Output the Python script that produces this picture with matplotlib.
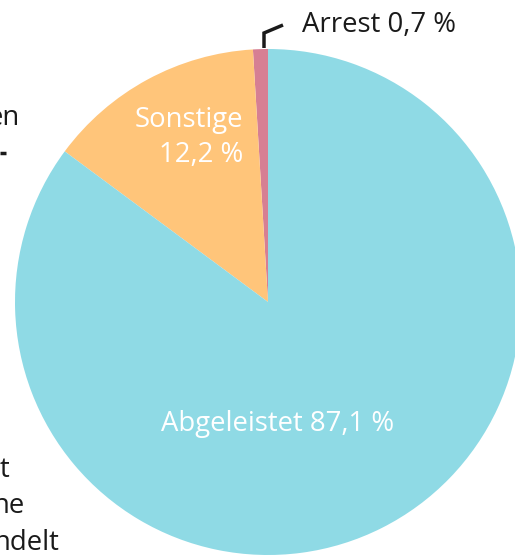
import matplotlib.pyplot as plt

# slice data (counterclockwise from 12 o'clock)
labels = ['Arrest', 'Sonstige', 'Abgeleistet']
label_pct = ['0,7 %', '12,2 %', '87,1 %']
# slice sizes as they appear in the picture (wedges are drawn a bit wider than the printed %)
shares = [0.95, 13.9, 85.15]
colors = ['#D67F93', '#FFC57A', '#8FDAE5']

plt.rcParams['font.family'] = ['Open Sans', 'DejaVu Sans']

W, H = 515, 556
fig = plt.figure(figsize=(W / 100, H / 100), dpi=100)
ax = fig.add_axes([0, 0, 1, 1])

ax.pie(shares, colors=colors, startangle=90, counterclock=True,
       center=(268, H - 302), radius=253,
       wedgeprops=dict(linewidth=0))
ax.set_xlim(0, W)
ax.set_ylim(0, H)
ax.set_aspect('equal')
ax.axis('off')

txt = '#1a1a1a'
fs = 19.8

# labels inside the pie
ax.text(278, H - 424, labels[2] + ' ' + label_pct[2], color='white', fontsize=fs,
        ha='center', va='center')
ax.text(243, H - 120, labels[1], color='white', fontsize=fs,
        ha='right', va='center')
ax.text(243, H - 155, label_pct[1], color='white', fontsize=fs,
        ha='right', va='center')

# Arrest label with leader line
ax.plot([264, 264, 283], [H - 48, H - 33, H - 25], color=txt, lw=2.5,
        solid_capstyle='butt', solid_joinstyle='miter')
ax.text(302, H - 25, labels[0] + ' ' + label_pct[0], color=txt, fontsize=fs,
        ha='left', va='center')

# cut-off labels from the neighbouring chart on the left
ax.text(20, H - 118, 'en', color=txt, fontsize=fs, ha='right', va='center')
ax.plot([0, 6], [H - 153, H - 153], color=txt, lw=2.5, solid_capstyle='butt')
ax.text(9, H - 470, 't', color=txt, fontsize=fs, ha='right', va='center')
ax.text(25, H - 506, 'ne', color=txt, fontsize=fs, ha='right', va='center')
ax.text(60, H - 543, 'ndelt', color=txt, fontsize=fs, ha='right', va='center')

fig.savefig('out.png', dpi=100)
